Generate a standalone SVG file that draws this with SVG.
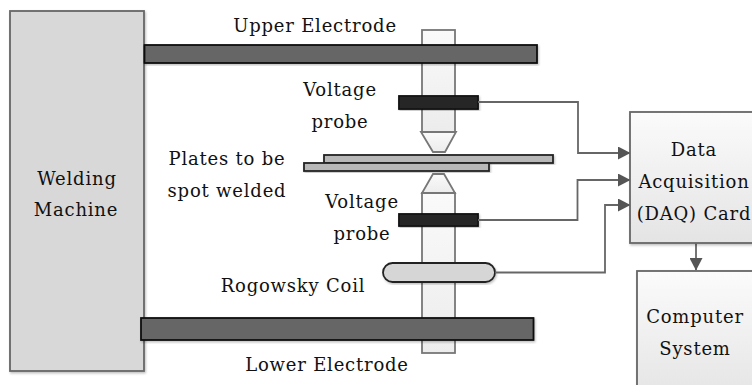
<svg xmlns="http://www.w3.org/2000/svg" width="752" height="385" viewBox="0 0 752 385">
<style>
text{font-family:"DejaVu Serif","Liberation Serif",serif;font-size:18px;fill:#111;text-anchor:middle;letter-spacing:.8px}
.el{fill:#666;stroke:#111;stroke-width:1.8;filter:url(#s)}
.rod{fill:url(#g);stroke:#777;stroke-width:1.8}
.probe{fill:#262626;stroke:#111;stroke-width:1.8;filter:url(#s)}
.plate{fill:#b8b8b8;stroke:#222;stroke-width:1.8;filter:url(#s)}
.box{fill:url(#b);stroke:#666;stroke-width:1.8;filter:url(#s)}
.wire{fill:none;stroke:#666;stroke-width:1.8;marker-end:url(#a)}
</style>
<defs>
<linearGradient id="g" x1="0" y1="0" x2="0" y2="1"><stop offset="0" stop-color="#fafafa"/><stop offset="1" stop-color="#ececec"/></linearGradient>
<linearGradient id="b" x1="0" y1="0" x2="0" y2="1"><stop offset="0" stop-color="#fbfbfb"/><stop offset="1" stop-color="#e4e4e4"/></linearGradient>
<filter id="s" x="-5%" y="-5%" width="110%" height="120%"><feDropShadow dx="1" dy="1.5" stdDeviation="1" flood-color="#000" flood-opacity=".25"/></filter>
<marker id="a" markerUnits="userSpaceOnUse" markerWidth="13" markerHeight="13" refX="12" refY="6.5" orient="auto"><path d="M0 0L12.5 6.5L0 13Z" fill="#555"/></marker>
</defs>
<g id="upper-rod"><rect class="rod" x="422" y="30" width="33" height="102"/><path class="rod" d="M421 132H456L445 152H433Z"/></g>
<g id="lower-rod"><rect class="rod" x="422" y="193" width="33" height="160"/><path class="rod" d="M422 193H455L444 174H433Z"/></g>
<g id="welding-machine"><rect x="10" y="11" width="134" height="360" fill="#d8d8d8" stroke="#666" stroke-width="1.8" filter="url(#s)"/><text x="77" y="185">Welding</text><text x="76" y="216">Machine</text></g>
<g id="upper-electrode"><rect class="el" x="144.500" y="45" width="392.500" height="18"/></g>
<g id="lower-electrode"><rect class="el" x="141" y="318" width="392.500" height="22"/></g>
<g id="upper-probe"><rect class="probe" x="399" y="96" width="79" height="13"/></g>
<g id="plates"><rect class="plate" x="324" y="155" width="229" height="8"/><rect class="plate" x="304" y="163" width="185" height="8"/></g>
<g id="lower-probe"><rect class="probe" x="399" y="214" width="79" height="12"/></g>
<g id="coil"><rect x="383" y="263" width="112" height="19" rx="9.500" fill="#d6d6d6" stroke="#222" stroke-width="1.8" filter="url(#s)"/></g>
<g id="connectors">
<path class="wire" d="M478 102H578V153H630"/>
<path class="wire" d="M478 220H577.500V180H630"/>
<path class="wire" d="M495 272.500H605V205H630"/>
<path class="wire" d="M696 243V270"/>
</g>
<g id="daq"><rect class="box" x="630" y="112" width="140" height="131"/><text x="694" y="156">Data</text><text x="694" y="188">Acquisition</text><text x="694" y="220">(DAQ) Card</text></g>
<g id="computer"><rect class="box" x="637" y="271" width="140" height="130"/><text x="695" y="323">Computer</text><text x="695" y="355">System</text></g>
<g id="labels">
<text x="315" y="32">Upper Electrode</text>
<text x="340" y="96">Voltage</text><text x="340" y="128">probe</text>
<text x="227" y="165">Plates to be</text><text x="227" y="197">spot welded</text>
<text x="362" y="208">Voltage</text><text x="362" y="240">probe</text>
<text x="293" y="292">Rogowsky Coil</text>
<text x="327" y="371">Lower Electrode</text>
</g>
</svg>
